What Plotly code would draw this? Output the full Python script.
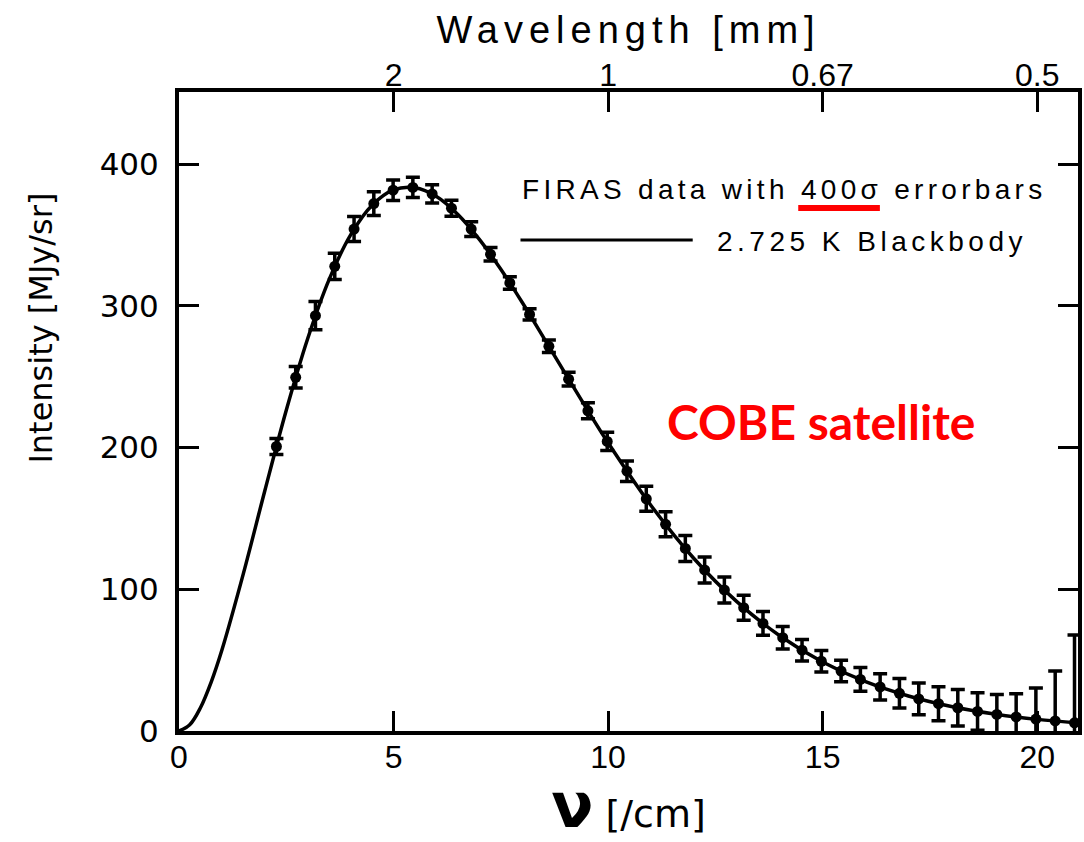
import plotly.graph_objects as go

# FIRAS data
nu = [2.27, 2.72, 3.18, 3.63, 4.08, 4.54, 4.99, 5.45, 5.90, 6.35, 6.81, 7.26, 7.71, 8.17,
      8.62, 9.08, 9.53, 9.98, 10.44, 10.89, 11.34, 11.80, 12.25, 12.71, 13.16, 13.61,
      14.07, 14.52, 14.97, 15.43, 15.88, 16.34, 16.79, 17.24, 17.70, 18.15, 18.61,
      19.06, 19.51, 19.97, 20.42, 20.87]
intensity = [200.7, 249.5, 293.0, 327.8, 354.1, 372.1, 381.5, 383.5, 378.9, 368.8, 354.1,
             336.3, 316.1, 293.9, 271.4, 248.2, 225.9, 204.3, 183.3, 163.8, 145.8, 128.8,
             113.6, 99.5, 87.0, 75.9, 65.8, 57.0, 49.2, 42.3, 36.4, 31.1, 26.6, 22.6,
             19.3, 16.4, 13.8, 11.7, 9.9, 8.4, 7.1, 5.8]
err400 = [5.6, 7.6, 10.0, 9.2, 8.8, 8.4, 7.2, 7.2, 6.4, 5.6, 5.2, 4.8, 4.4, 4.0, 4.4, 4.8,
          5.6, 6.4, 7.2, 8.8, 8.8, 9.2, 9.2, 9.2, 8.8, 8.4, 8.0, 7.6, 7.6, 7.6, 8.4, 9.2,
          10.4, 11.2, 12.0, 12.8, 13.2, 14.0, 16.4, 22.0, 35.2, 62.0]

# 2.725 K blackbody curve
nu_bb = [0, 0.25, 0.5, 0.75, 1, 1.5, 2, 2.5, 3, 3.5, 4, 4.5, 5, 5.5, 6, 6.5, 7, 7.5, 8,
         8.5, 9, 9.5, 10, 11, 12, 13, 14, 15, 16, 17, 18, 19, 20, 21]
I_bb = [0, 4.4, 16.4, 34.5, 57.1, 111.0, 169.5, 226.3, 276.9, 318.6, 350.0, 370.9, 381.7,
        383.2, 377.1, 364.4, 346.8, 325.7, 302.3, 277.4, 252.3, 227.4, 203.3, 159.1,
        121.7, 91.3, 67.2, 48.7, 34.8, 24.7, 17.3, 12.0, 8.2, 5.6]

x_ticks = [0, 5, 10, 15, 20]
y_ticks = [0, 100, 200, 300, 400]
wl_tickvals = [5, 10, 15, 20]
wl_ticktext = ["2", "1", "0.67", "0.5"]

W, H = 1084, 842
L, R, T, B = 179, 2, 92, 111
pw, ph = W - L - R, H - T - B

def px(x):
    return (x - L) / pw

def py(y):
    return (H - B - y) / ph

fig = go.Figure()
fig.add_trace(go.Scatter(x=nu_bb, y=I_bb, mode="lines", line=dict(color="black", width=3.5, shape="spline"),
                         showlegend=False, hoverinfo="skip"))
fig.add_trace(go.Scatter(x=nu, y=intensity, mode="markers",
                         marker=dict(color="black", size=11),
                         error_y=dict(type="data", array=err400, color="black", thickness=3.5, width=7),
                         showlegend=False))
fig.add_trace(go.Scatter(x=nu_bb, y=I_bb, xaxis="x2", mode="lines", line=dict(width=0),
                         opacity=0, showlegend=False, hoverinfo="skip"))

axis_common = dict(showline=True, linecolor="black", linewidth=4, ticks="inside", ticklen=20,
                   tickwidth=3, tickcolor="black", showgrid=False, zeroline=False)

fig.update_layout(
    width=W, height=H,
    margin=dict(l=L, r=R, t=T, b=B),
    paper_bgcolor="white", plot_bgcolor="white",
    showlegend=False,
    xaxis=dict(range=[0, pw / 43.1], tickvals=x_ticks, mirror=False,
               tickfont=dict(family="Liberation Sans Narrow, Liberation Sans, Arial", size=32, color="black"),
               ticklabelstandoff=-5,
               title=dict(text='<span style="font-family:DejaVu Sans;font-size:62px;font-weight:bold">ν</span> [/cm]',
                          font=dict(family="DejaVu Sans", size=38, color="black"), standoff=20),
               **axis_common),
    xaxis2=dict(overlaying="x", side="top", matches="x", tickvals=wl_tickvals, ticktext=wl_ticktext,
                tickfont=dict(family="Liberation Sans, Arial", size=32, color="black"),
                ticklabelstandoff=-11,
                title=dict(text='<span style="letter-spacing:6px">Wavelength [mm]</span>',
                           font=dict(family="Liberation Sans, Arial", size=38, color="black"), standoff=3),
                **axis_common),
    yaxis=dict(range=[0, ph / 1.4175], tickvals=y_ticks, mirror="ticks",
               tickfont=dict(family="DejaVu Sans", size=31, color="black"),
               ticklabelstandoff=10,
               **axis_common),
    annotations=[
        dict(text="Intensity [MJy/sr]", textangle=-90, x=px(40), y=py(328), xref="paper", yref="paper",
             xanchor="center", yanchor="middle", showarrow=False,
             font=dict(family="DejaVu Sans", size=32, color="black")),
        dict(text='<span style="letter-spacing:4.3px">FIRAS data with 400σ errorbars</span>',
             x=px(522), y=py(189), xref="paper", yref="paper", xanchor="left", yanchor="middle",
             showarrow=False, font=dict(family="Liberation Sans, Arial", size=28, color="black")),
        dict(text='<span style="letter-spacing:4.5px">2.725 K Blackbody</span>',
             x=px(717), y=py(241), xref="paper", yref="paper", xanchor="left", yanchor="middle",
             showarrow=False, font=dict(family="Liberation Sans, Arial", size=28, color="black")),
        dict(text="<b>COBE satellite</b>", x=px(824), y=py(421), xref="paper", yref="paper",
             xanchor="center", yanchor="middle", showarrow=False,
             font=dict(family="Lato, Open Sans", size=48, color="#ff0000")),
    ],
    shapes=[
        dict(type="line", xref="paper", yref="paper", x0=px(522), x1=px(695), y0=py(240), y1=py(240),
             line=dict(color="black", width=3)),
        dict(type="line", xref="paper", yref="paper", x0=px(801), x1=px(883), y0=py(208), y1=py(208),
             line=dict(color="#ff0000", width=6)),
    ],
)

fig.write_html("out.html")
